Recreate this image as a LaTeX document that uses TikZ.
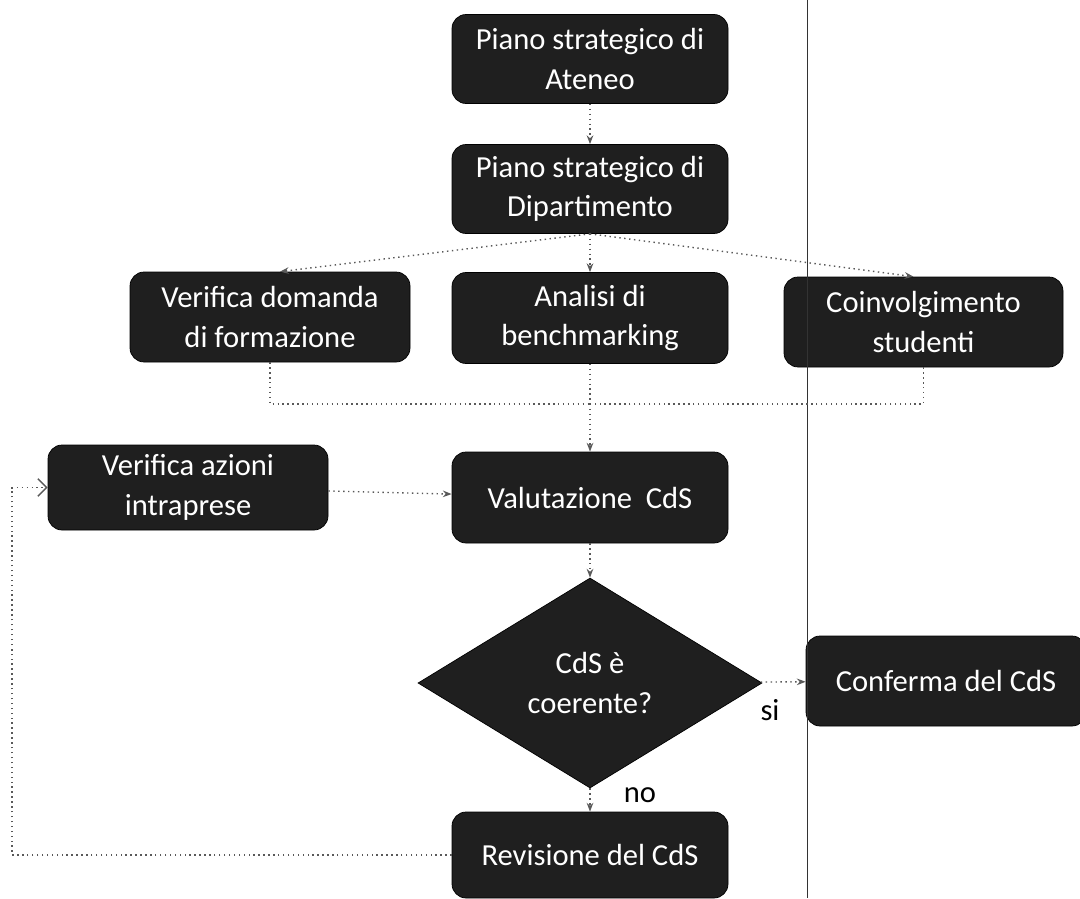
\documentclass[tikz,border=0pt]{standalone}
\usepackage{fontspec}
\setmainfont{Carlito}
\usepackage{tikz}
\usetikzlibrary{positioning,arrows.meta,shapes.geometric,calc}
\usepackage{xcolor}

\begin{document}
\begin{tikzpicture}[>=Stealth,
    block/.style={draw=black, fill=black!88, text=white, rounded corners=8pt, align=center,
        minimum width=5.52cm, minimum height=1.78cm, font=\fontsize{17.4}{22.5}\selectfont},
    choice/.style={diamond, draw=black, fill=black!88, text=white, align=center, inner sep=0pt,
        minimum width=6.88cm, minimum height=4.2cm, font=\fontsize{17.4}{22.5}\selectfont},
    flow/.style={dotted, thick, gray!70!black, -{Stealth[length=5pt]}},
    link/.style={dotted, thick, gray!70!black}]
    \useasboundingbox (0, 0) rectangle (21.6, -17.96);

    % Strategic plans
    \node[block] (ateneo) at (11.8, -1.18) {Piano strategico di\\Ateneo};
    \node[block] (dip) at (11.8, -3.78) {Piano strategico di\\Dipartimento};

    % Three analyses
    \node[block, minimum width=5.6cm, minimum height=1.8cm] (domanda) at (5.4, -6.34) {Verifica domanda\\di formazione};
    \node[block, minimum height=1.82cm] (bench) at (11.8, -6.36) {Analisi di\\benchmarking};
    \node[block, minimum width=5.58cm, minimum height=1.8cm] (studenti) at (18.47, -6.44) {Coinvolgimento\\studenti};

    % Evaluation
    \node[block, minimum width=5.6cm, minimum height=1.7cm] (azioni) at (3.76, -9.75) {Verifica azioni\\intraprese};
    \node[block, minimum height=1.82cm] (valut) at (11.8, -9.95) {Valutazione~ CdS};
    \node[choice] (coerente) at (11.8, -13.66) {CdS è\\coerente?};
    \node[block, minimum width=5.6cm, minimum height=1.8cm] (conferma) at (18.92, -13.62) {Conferma del CdS};
    \node[block, minimum height=1.72cm] (revisione) at (11.8, -17.1) {Revisione del CdS};

    % Scan edge line
    \draw[thin, black!80] (16.14, 0) -- (16.14, -17.96);

    % Connectors
    \coordinate (merge) at (11.8, -8.08);
    \coordinate (fb) at (0.24, -13.0);
    \draw[flow] (ateneo) -- (dip);
    \draw[flow] (dip.south) -- ([xshift=0.2cm]domanda.north);
    \draw[flow] (dip.south) -- (bench.north);
    \draw[flow] (dip.south) -- ([xshift=-0.2cm]studenti.north);
    \draw[link] (domanda.south) |- (merge);
    \draw[link] (studenti.south) |- (merge);
    \draw[link] (bench.south) -- (merge);
    \draw[flow] (merge) -- (valut.north);
    \draw[flow] (azioni) -- (valut);
    \draw[flow] (valut) -- (coerente);
    \draw[flow] (coerente) -- (conferma);
    \draw[flow] (coerente) -- (revisione);
    \draw[link] (revisione.west) -| (fb);
    \draw[dotted, thick, gray!70!black, -{Straight Barb[length=5pt]}] (fb) |- (azioni.west);

    % Branch labels
    \node[font=\fontsize{17.4}{22.5}\selectfont] (si) at (15.4, -14.2) {si};
    \node[font=\fontsize{17.4}{22.5}\selectfont] (no) at (12.8, -15.9) {no};
\end{tikzpicture}
\end{document}
